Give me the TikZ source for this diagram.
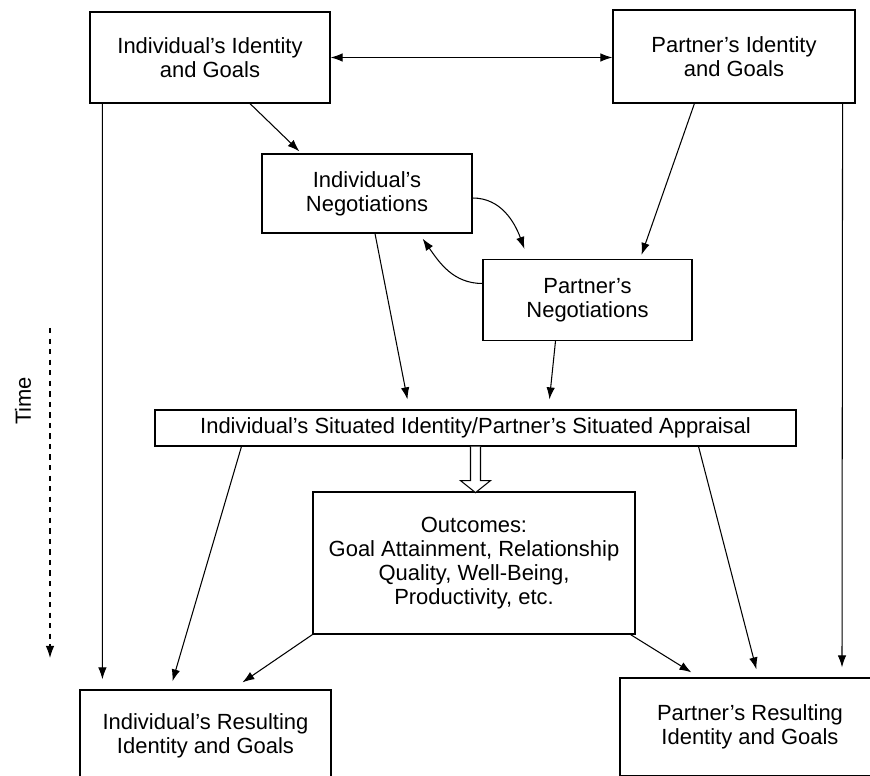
\documentclass[tikz,border=0pt]{standalone}
\usepackage{fontspec}
\setmainfont{Liberation Sans}
\usetikzlibrary{positioning, arrows.meta, calc}

\begin{document}
\begin{tikzpicture}[x=0.02cm, y=-0.02cm, >={Latex[length=2.4mm, width=1.7mm]},
        box/.style={draw, line width=0.7pt, align=center, inner sep=2pt,
            font=\fontsize{12.5}{13.8}\selectfont},
        link/.style={->, line width=0.6pt}]
        \useasboundingbox (0,0) rectangle (870,776);

        % starting point
        \node[box, minimum width=4.8cm, minimum height=1.82cm] (indgoals) at (210,57.5)
        {Individual's Identity\\and Goals};
        \node[box, minimum width=4.84cm, minimum height=1.86cm] (partgoals) at (734,56.5)
        {Partner's Identity\\and Goals};

        % negotiations
        \node[box, minimum width=4.2cm, minimum height=1.58cm] (indneg) at (367,193.5)
        {Individual's\\Negotiations};
        \node[box, minimum width=4.18cm, minimum height=1.62cm] (partneg) at (587.5,300)
        {Partner's\\Negotiations};

        % situated identity and outcomes
        \node[box, minimum width=12.82cm, minimum height=0.72cm] (situated) at (475.5,428)
        {Individual's Situated Identity/Partner's Situated Appraisal};
        \node[box, minimum width=6.44cm, minimum height=2.84cm] (outcomes) at (474,563)
        {Outcomes:\\Goal Attainment, Relationship\\Quality, Well-Being,\\Productivity, etc.};

        % results (cut by the page edge)
        \node[box, minimum width=5.02cm, minimum height=1.84cm] (indres) at (205.5,736)
        {Individual's Resulting\\Identity and Goals};
        \node[box, minimum width=5.2cm, minimum height=1.96cm] (partres) at (750,727)
        {Partner's Resulting\\Identity and Goals};

        % time axis
        \node[rotate=90, font=\fontsize{12.5}{13.8}\selectfont] (timelabel) at (23,401) {Time};
        \coordinate (timestart) at (50,328);
        \coordinate (timeend) at (50,658);
        \draw[link, dashed] (timestart) -- (timeend);

        \draw[<->, line width=0.6pt] (indgoals.east) -- (indgoals.east -| partgoals.west);

        \draw[link] ($(indgoals.south west)+(13,0)$) -- ($(indres.north west)+(23,-10)$);
        \draw[link] ($(partgoals.south east)+(-13,0)$) -- ($(partres.north)+(92,-10)$);
        \draw[link] ($(indgoals.south)+(40,0)$) -- ($(indneg.north west)+(38,-2)$);
        \draw[link] ($(partgoals.south west)+(82,0)$) -- ($(partneg.north)+(54,-4)$);

        \draw[link] ($(indneg.east)+(0,4.5)$) to[out=0, in=110] ($(partneg.north west)+(42,-10)$);
        \draw[link] ($(partneg.west)+(0,-16.5)$) to[out=180, in=-55] ($(indneg.south east)+(-50,5)$);

        \draw[link] ($(indneg.south)+(8,0)$) -- ($(situated.north west)+(253,-10)$);
        \draw[link] ($(partneg.south)+(-32,0)$) -- ($(situated.north west)+(395,-10)$);

        \draw[link] ($(situated.south west)+(87,0)$) -- ($(indres.north west)+(93,-8)$);
        \draw[link] ($(situated.south east)+(-98,0)$) -- ($(partres.north west)+(137,-8)$);
        \draw[link] (outcomes.south west) -- ($(indres.north west)+(163,-7)$);
        \draw[link] ($(outcomes.south east)+(-5,0)$) -- ($(partres.north west)+(72,-5)$);

        % hollow arrow
        \draw[line width=0.6pt, fill=white] ($(situated.south)+(-5,0)$) -- ++(0,34) -- ++(-10,0)
        -- ++(15,12) -- ++(15,-12) -- ++(-10,0) -- ++(0,-34);
    \end{tikzpicture}
\end{document}
